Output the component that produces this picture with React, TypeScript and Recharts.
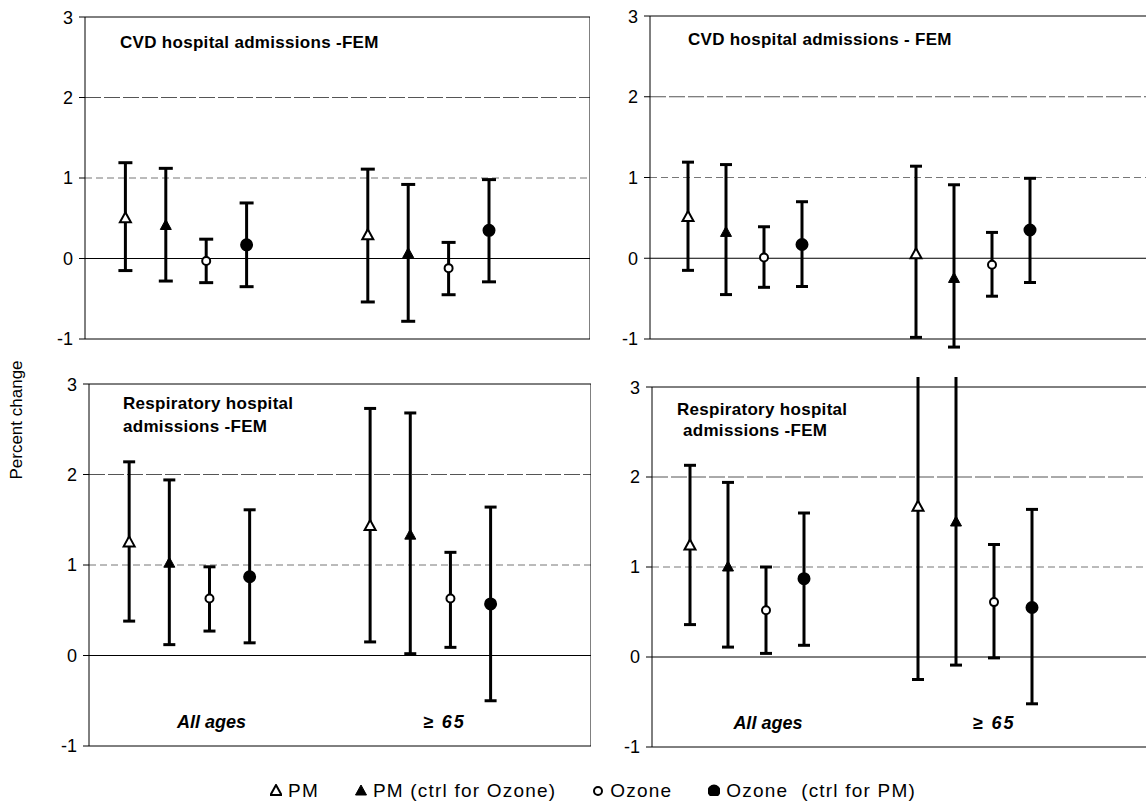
import React from "react";
import { ScatterChart, Scatter, XAxis, YAxis, ErrorBar, ReferenceLine } from "recharts";

// order inside each panel: PM, PM ctrl, Ozone, Ozone ctrl (All ages), then the same for >= 65
const SERIES = ["PM", "PM (ctrl for Ozone)", "Ozone", "Ozone  (ctrl for PM)"];
const X_POS = [1, 2, 3, 4, 7, 8, 9, 10];
const GROUPS = ["All ages", "≥ 65"];
const Y_TICKS = [-1, 0, 1, 2, 3];

// CVD hospital admissions -FEM (left)
const CVD_L_EST = [0.5, 0.41, -0.03, 0.17, 0.29, 0.06, -0.12, 0.35];
const CVD_L_LO = [-0.15, -0.28, -0.3, -0.35, -0.54, -0.78, -0.45, -0.29];
const CVD_L_HI = [1.19, 1.12, 0.24, 0.69, 1.11, 0.92, 0.2, 0.98];

// CVD hospital admissions - FEM (right)
const CVD_R_EST = [0.51, 0.32, 0.01, 0.17, 0.05, -0.25, -0.08, 0.35];
const CVD_R_LO = [-0.15, -0.45, -0.36, -0.35, -0.98, -1.1, -0.47, -0.3];
const CVD_R_HI = [1.19, 1.16, 0.39, 0.7, 1.14, 0.91, 0.32, 0.99];

// Respiratory hospital admissions -FEM (left)
const RESP_L_EST = [1.25, 1.02, 0.63, 0.87, 1.43, 1.33, 0.63, 0.57];
const RESP_L_LO = [0.38, 0.12, 0.27, 0.14, 0.15, 0.02, 0.09, -0.5];
const RESP_L_HI = [2.14, 1.94, 0.98, 1.61, 2.73, 2.68, 1.14, 1.64];

// Respiratory hospital admissions -FEM (right)
const RESP_R_EST = [1.24, 1.0, 0.52, 0.87, 1.67, 1.5, 0.61, 0.55];
const RESP_R_LO = [0.36, 0.11, 0.04, 0.13, -0.25, -0.09, -0.01, -0.52];
const RESP_R_HI = [2.13, 1.94, 1.0, 1.6, 3.3, 3.3, 1.25, 1.64];

const FONT = "'Liberation Sans', Arial, sans-serif";

function seriesData(est: number[], lo: number[], hi: number[], s: number) {
  return [s, s + 4].map((i) => ({
    x: X_POS[i],
    y: est[i],
    err: [est[i] - lo[i], hi[i] - est[i]],
  }));
}

const triangle = (filled: boolean) => (p: any) => (
  <path
    d={`M${p.cx},${p.cy - 6} L${p.cx + 5.5},${p.cy + 4} L${p.cx - 5.5},${p.cy + 4} Z`}
    fill={filled ? "#000" : "#fff"}
    stroke="#000"
    strokeWidth={filled ? 1 : 2}
  />
);
const circle = (filled: boolean) => (p: any) => (
  <circle cx={p.cx} cy={p.cy} r={filled ? 5.5 : 4} fill={filled ? "#000" : "#fff"} stroke="#000" strokeWidth={2} />
);
const SHAPES = [triangle(false), triangle(true), circle(false), circle(true)];

function GroupTick(props: any) {
  const { x, y, payload, index } = props;
  return (
    <text
      x={x}
      y={y - 18}
      textAnchor="middle"
      fontFamily={FONT}
      fontSize={18}
      fontWeight="bold"
      fontStyle="italic"
      letterSpacing={index === 1 ? 2 : 0}
      fill="#000"
    >
      {GROUPS[index] ?? payload.value}
    </text>
  );
}

interface PanelProps {
  left: number;
  top: number;
  width: number;
  height: number;
  xMax: number;
  est: number[];
  lo: number[];
  hi: number[];
  groupTicks?: number[];
  rightBorder?: boolean;
  cap: number;
}

function Panel({ left, top, width, height, xMax, est, lo, hi, groupTicks, rightBorder, cap }: PanelProps) {
  return (
    <div style={{ position: "absolute", left, top }}>
      <ScatterChart width={width} height={height} margin={{ top: 10, right: 0, bottom: 0, left: 0 }}>
        <XAxis
          type="number"
          dataKey="x"
          domain={[0, xMax]}
          allowDataOverflow
          height={30}
          axisLine={{ stroke: "#000" }}
          tickLine={false}
          ticks={groupTicks ?? []}
          tick={groupTicks ? <GroupTick /> : false}
          tickSize={0}
          tickMargin={0}
          interval={0}
        />
        <YAxis
          type="number"
          dataKey="y"
          domain={[-1, 3]}
          allowDataOverflow
          ticks={Y_TICKS}
          width={40}
          axisLine={{ stroke: "#000" }}
          tickLine={{ stroke: "#000" }}
          tickSize={6}
          tickMargin={6}
          tick={{ fontSize: 18, fill: "#000", fontFamily: FONT }}
        />
        <ReferenceLine y={1} stroke="#777" strokeDasharray="7 4" />
        <ReferenceLine y={2} stroke="#555" strokeDasharray="16 3" />
        <ReferenceLine y={0} stroke="#000" />
        <ReferenceLine y={3} stroke="#000" />
        {rightBorder && <ReferenceLine x={xMax} stroke="#000" />}
        {SERIES.map((name, s) => (
          <Scatter
            key={name}
            name={name}
            data={seriesData(est, lo, hi, s)}
            shape={SHAPES[s]}
            isAnimationActive={false}
          >
            <ErrorBar dataKey="err" direction="y" width={cap} stroke="#000" strokeWidth={3} />
          </Scatter>
        ))}
      </ScatterChart>
    </div>
  );
}

const titleStyle: React.CSSProperties = {
  position: "absolute",
  fontFamily: FONT,
  fontSize: 17,
  fontWeight: "bold",
  lineHeight: "17px",
  letterSpacing: 0.3,
  whiteSpace: "pre",
  color: "#000",
};

function LegendItem({ s, label, last }: { s: number; label: string; last: boolean }) {
  const Shape = SHAPES[s];
  return (
    <span style={{ display: "inline-flex", alignItems: "center", marginRight: last ? 0 : 36 }}>
      <svg width={12} height={12} style={{ marginRight: 6 }}>
        <Shape cx={6} cy={7} />
      </svg>
      <span style={{ whiteSpace: "pre" }}>{label}</span>
    </span>
  );
}

export default function App() {
  return (
    <div style={{ position: "fixed", left: 0, top: 0, width: 1146, height: 805, overflow: "hidden", background: "#fff" }}>
      <Panel left={45} top={7} width={545} height={362} xMax={12.5} est={CVD_L_EST} lo={CVD_L_LO} hi={CVD_L_HI} rightBorder cap={7} />
      <Panel left={610} top={6} width={553} height={363} xMax={13.5} est={CVD_R_EST} lo={CVD_R_LO} hi={CVD_R_HI} cap={6} />
      <Panel left={49} top={374} width={542} height={402} xMax={12.5} est={RESP_L_EST} lo={RESP_L_LO} hi={RESP_L_HI} groupTicks={[3.05, 8.85]} rightBorder cap={6} />
      <Panel left={612} top={377} width={553} height={400} xMax={13.5} est={RESP_R_EST} lo={RESP_R_LO} hi={RESP_R_HI} groupTicks={[3.05, 9]} cap={6} />

      <div style={{ ...titleStyle, left: 120, top: 34 }}>CVD hospital admissions -FEM</div>
      <div style={{ ...titleStyle, left: 688, top: 31 }}>CVD hospital admissions - FEM</div>
      <div style={{ ...titleStyle, left: 123, top: 395 }}>Respiratory hospital</div>
      <div style={{ ...titleStyle, left: 123, top: 418 }}>admissions -FEM</div>
      <div style={{ ...titleStyle, left: 677, top: 401 }}>Respiratory hospital</div>
      <div style={{ ...titleStyle, left: 683, top: 422 }}>admissions -FEM</div>

      <div
        style={{
          position: "absolute",
          left: 17,
          top: 420,
          transform: "translate(-50%, -50%) rotate(-90deg)",
          fontFamily: FONT,
          fontSize: 17,
          whiteSpace: "nowrap",
        }}
      >
        Percent change
      </div>

      <div
        style={{
          position: "absolute",
          left: 20,
          width: 1146,
          top: 779,
          textAlign: "center",
          fontFamily: FONT,
          fontSize: 19,
          letterSpacing: 1.2,
          lineHeight: "21px",
          color: "#000",
        }}
      >
        {SERIES.map((label, s) => (
          <LegendItem key={label} s={s} label={label} last={s === SERIES.length - 1} />
        ))}
      </div>
    </div>
  );
}
